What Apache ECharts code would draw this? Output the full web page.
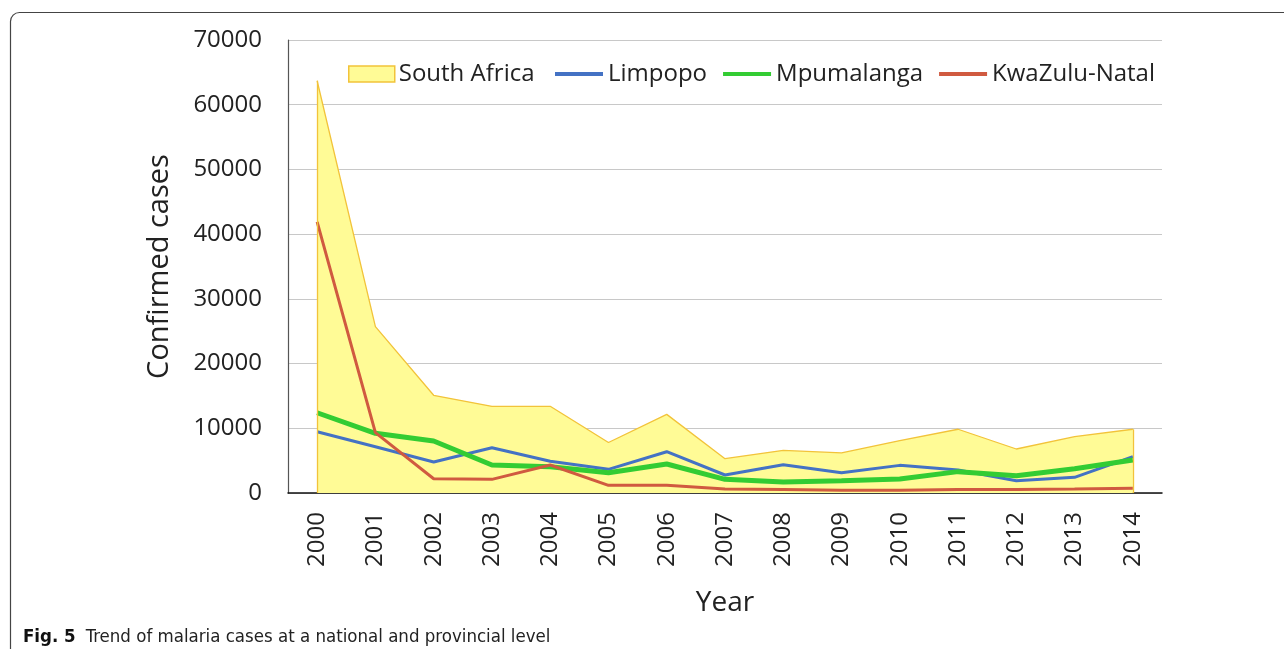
<!DOCTYPE html>
<html>
<head>
<meta charset="utf-8">
<script src="https://cdn.jsdelivr.net/npm/echarts@6/dist/echarts.min.js"></script>
<style>
  html, body { margin: 0; padding: 0; background: #fff; }
  #chart { width: 1284px; height: 649px; }
</style>
</head>
<body>
<div id="chart"></div>
<script>
// values
const years = ['2000', '2001', '2002', '2003', '2004', '2005', '2006', '2007',
  '2008', '2009', '2010', '2011', '2012', '2013', '2014']
const southAfrica = [63700, 25700, 15100, 13400, 13400, 7800, 12150, 5300,
  6600, 6200, 8100, 9850, 6800, 8700, 9850]
const limpopo = [9470, 7150, 4790, 7000, 4900, 3660, 6380, 2780,
  4380, 3140, 4270, 3550, 1900, 2420, 5610]
const mpumalanga = [12400, 9220, 8030, 4330, 4070, 3140, 4480, 2110,
  1700, 1900, 2160, 3300, 2680, 3760, 5100]
const kwazuluNatal = [41900, 9320, 2210, 2110, 4330, 1180, 1180, 620,
  550, 420, 420, 560, 560, 600, 730]
const yTicks = { min: 0, max: 70000, step: 10000 }

const font = '"Open Sans", "Noto Sans", sans-serif'
const capFont = '"Liberation Sans Narrow", "DejaVu Sans Condensed", "Open Sans", sans-serif'
const chart = echarts.init(document.getElementById('chart'))

const option = {
  animation: false,
  backgroundColor: '#fff',
  title: {
    left: 18,
    top: 623,
    text: '{b|Fig. 5}  {n|Trend of malaria cases at a national and provincial level}',
    textStyle: {
      fontWeight: 'normal',
      rich: {
        b: { fontFamily: capFont, fontWeight: 'bold', fontSize: 18.5, color: '#111' },
        n: { fontFamily: capFont, fontWeight: 'normal', fontSize: 18.5, color: '#222' }
      }
    }
  },
  graphic: [{
    type: 'rect',
    shape: { x: 10.5, y: 12.5, width: 1320, height: 700, r: 9 },
    style: { fill: 'none', stroke: '#444', lineWidth: 1.2 },
    silent: true
  }],
  legend: [{
    left: 343,
    top: 57,
    icon: 'rect',
    itemWidth: 46,
    itemHeight: 16,
    textStyle: { fontFamily: font, fontSize: 24, color: '#222', padding: [0, 0, 0, -1] },
    data: [{ name: 'South Africa', itemStyle: { color: '#FFFB96', borderColor: '#F2C33A', borderWidth: 1.5 } }]
  }, {
    left: 550,
    top: 57,
    icon: 'rect',
    itemWidth: 48,
    itemHeight: 4,
    itemGap: 16,
    textStyle: { fontFamily: font, fontSize: 24, color: '#222', padding: [0, 0, 0, 0] },
    data: [
      { name: 'Limpopo', itemStyle: { color: '#4472C4' } },
      { name: 'Mpumalanga', itemStyle: { color: '#33CC33' } },
      { name: 'KwaZulu-Natal', itemStyle: { color: '#D05A40' } }
    ]
  }],
  grid: { left: 288, right: 122, top: 40, bottom: 156 },
  xAxis: {
    type: 'category',
    data: years,
    boundaryGap: true,
    name: 'Year',
    nameLocation: 'middle',
    nameGap: 96,
    nameTextStyle: { fontFamily: font, fontSize: 28, color: '#222' },
    axisLine: { lineStyle: { color: '#111', width: 1.5 } },
    axisTick: { show: false },
    axisLabel: { rotate: 90, margin: 19, fontFamily: font, fontSize: 24, color: '#222' }
  },
  yAxis: {
    type: 'value',
    min: yTicks.min,
    max: yTicks.max,
    interval: yTicks.step,
    name: 'Confirmed cases',
    nameLocation: 'middle',
    nameGap: 114,
    nameTextStyle: { fontFamily: font, fontSize: 29, color: '#222' },
    axisLine: { show: true, lineStyle: { color: '#555', width: 1.2 } },
    axisTick: { show: false },
    axisLabel: { margin: 26, fontFamily: font, fontSize: 24, color: '#222', formatter: v => String(v) },
    splitLine: { lineStyle: { color: '#C8C8C8', width: 1.2 } }
  },
  series: [{
    name: 'South Africa',
    type: 'line',
    data: southAfrica,
    symbol: 'none',
    lineStyle: { color: '#F2C33A', width: 1.3 },
    itemStyle: { color: '#FFFB96' },
    areaStyle: { color: '#FFFB96', opacity: 1 },
    markLine: {
      silent: true,
      symbol: 'none',
      label: { show: false },
      lineStyle: { color: '#F2C33A', width: 1.3, type: 'solid' },
      data: [
        [{ coord: [years[0], 0] }, { coord: [years[0], southAfrica[0]] }],
        [{ coord: [years[years.length - 1], 0] }, { coord: [years[years.length - 1], southAfrica[southAfrica.length - 1]] }]
      ]
    }
  }, {
    name: 'Limpopo',
    type: 'line',
    data: limpopo,
    symbol: 'none',
    lineStyle: { color: '#4472C4', width: 3 },
    itemStyle: { color: '#4472C4' }
  }, {
    name: 'Mpumalanga',
    type: 'line',
    data: mpumalanga,
    symbol: 'none',
    lineStyle: { color: '#33CC33', width: 5 },
    itemStyle: { color: '#33CC33' }
  }, {
    name: 'KwaZulu-Natal',
    type: 'line',
    data: kwazuluNatal,
    symbol: 'none',
    lineStyle: { color: '#D05A40', width: 3 },
    itemStyle: { color: '#D05A40' }
  }]
}

chart.setOption(option)
</script>
</body>
</html>
